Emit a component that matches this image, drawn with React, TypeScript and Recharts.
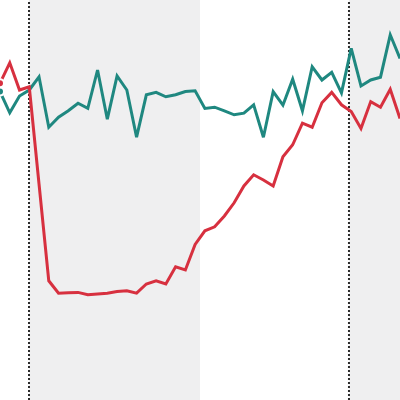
import { LineChart, Line, XAxis, YAxis, ReferenceArea, ReferenceLine } from "recharts";

// one value per period, index 0..41
const TEAL = [
  77.1, 71.8, 76.0, 77.5, 80.8, 68.2, 70.7, 72.3, 74.2, 72.9, 82.5, 70.2, 81.0, 77.5,
  65.7, 76.3, 76.9, 75.8, 76.3, 77.1, 77.3, 72.9, 73.2, 72.3, 71.3, 71.7, 73.8, 65.7,
  77.1, 73.7, 80.2, 72.3, 83.3, 80.0, 81.9, 76.8, 87.9, 78.5, 80.0, 80.7, 91.3, 85.4,
];
const RED = [
  79.2, 84.3, 77.5, 78.3, 54.0, 29.8, 26.7, 26.8, 26.9, 26.3, 26.5, 26.7, 27.1, 27.3,
  26.7, 29.0, 29.8, 29.0, 33.3, 32.5, 38.9, 42.3, 43.3, 46.0, 49.3, 53.5, 56.3, 55.0,
  53.5, 60.8, 63.8, 69.2, 68.2, 74.3, 76.9, 73.8, 72.1, 67.9, 74.6, 73.2, 77.7, 70.4,
];
// shaded periods [start, end] on the same index scale
const BANDS = [
  [2.97, 20.5],
  [35.77, 41],
];
const MARKERS = [2.973, 35.77];

const data = TEAL.map((t, i) => ({ i, teal: t, red: RED[i] }));

export default function App() {
  return (
    <div style={{ position: "fixed", left: 0, top: 0, width: 400, height: 400, background: "#fff" }}>
      <LineChart width={400} height={400} data={data} margin={{ top: 0, right: 0, bottom: 0, left: 0 }}>
        <XAxis dataKey="i" type="number" domain={[0, 41]} hide />
        <YAxis type="number" domain={[0, 100]} hide />
        {BANDS.map(([a, b], k) => (
          <ReferenceArea key={k} x1={a} x2={b} fill="#efeff0" fillOpacity={1} stroke="none" ifOverflow="hidden" />
        ))}
        {MARKERS.map((x, k) => (
          <ReferenceLine key={k} x={x} stroke="#2b2b2b" strokeWidth={2} strokeDasharray="2 2" />
        ))}
        <Line dataKey="teal" type="linear" stroke="#1f8880" strokeWidth={3} dot={false} isAnimationActive={false} />
        <Line dataKey="red" type="linear" stroke="#d7303f" strokeWidth={3} dot={false} isAnimationActive={false} />
      </LineChart>
    </div>
  );
}
